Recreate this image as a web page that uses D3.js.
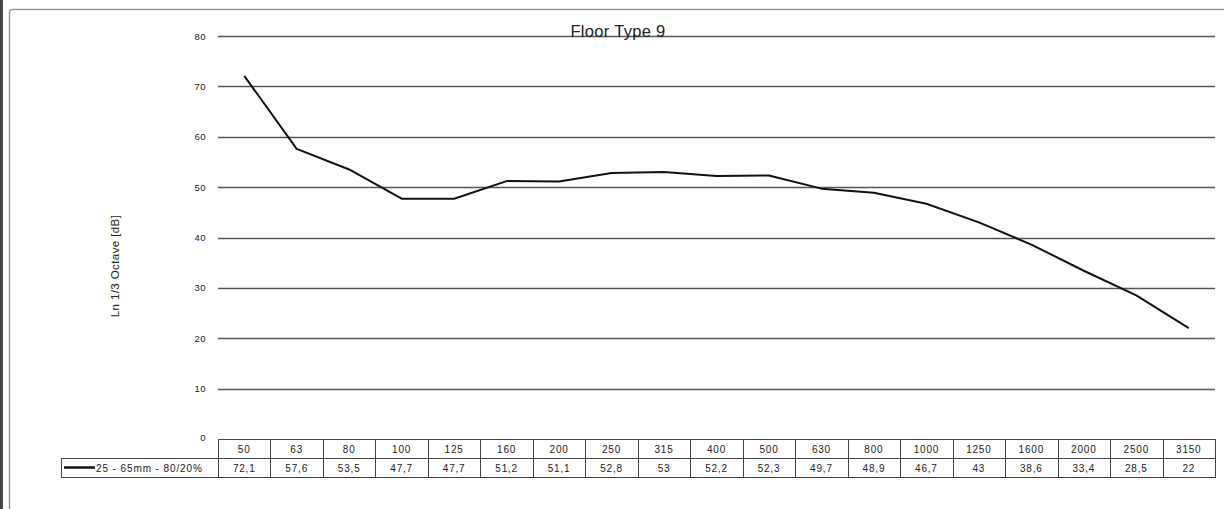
<!DOCTYPE html>
<html>
<head>
<meta charset="utf-8">
<script src="https://cdn.jsdelivr.net/npm/d3@7"></script>
<style>
  body { margin: 0; background: #fff; }
  text { font-family: "Liberation Sans", Arial, sans-serif; fill: #222; }
</style>
</head>
<body>
<svg id="chart" width="1224" height="509"></svg>
<script>
var frequencies = ["50", "63", "80", "100", "125", "160", "200", "250", "315", "400", "500", "630", "800", "1000", "1250", "1600", "2000", "2500", "3150"];
var lnValues = [72.1, 57.6, 53.5, 47.7, 47.7, 51.2, 51.1, 52.8, 53, 52.2, 52.3, 49.7, 48.9, 46.7, 43, 38.6, 33.4, 28.5, 22];
var seriesName = "25 - 65mm - 80/20%";
var yTicks = [0, 10, 20, 30, 40, 50, 60, 70, 80];

var svg = d3.select("#chart");

// plot box (note: "top" is reserved on window, so use other names)
var plotLeft = 218, plotRight = 1215, plotTop = 36, plotBottom = 439;
var rowH = 19;

// outer frame
svg.append("rect").attr("x", 0).attr("y", 0).attr("width", 3).attr("height", 509).attr("fill", "#444");
svg.append("rect")
  .attr("x", 9.5).attr("y", 9.5).attr("width", 1230).attr("height", 520)
  .attr("rx", 3)
  .attr("fill", "none").attr("stroke", "#999").attr("stroke-width", 1.5);

var x = d3.scaleBand().domain(frequencies).range([plotLeft, plotRight]);
var y = d3.scaleLinear().domain([0, 80]).range([plotBottom, plotTop]);

// gridlines
svg.append("g").selectAll("line")
  .data(yTicks.filter(function(d) { return d > 0; }))
  .enter().append("line")
  .attr("x1", plotLeft).attr("x2", plotRight)
  .attr("y1", function(d) { return Math.round(y(d)) + 0.5; })
  .attr("y2", function(d) { return Math.round(y(d)) + 0.5; })
  .attr("stroke", "#555").attr("stroke-width", 1.3);

// y tick labels
svg.append("g").selectAll("text")
  .data(yTicks)
  .enter().append("text")
  .attr("x", 206)
  .attr("y", function(d) { return y(d) + (d === 0 ? 2 : 3.5); })
  .attr("text-anchor", "end")
  .style("font-size", "9.5px")
  .style("letter-spacing", "0.5px")
  .text(function(d) { return d; });

// y axis title
svg.append("text")
  .attr("transform", "translate(119,266) rotate(-90)")
  .attr("text-anchor", "middle")
  .style("font-size", "11.5px")
  .style("letter-spacing", "0.4px")
  .text("Ln 1/3 Octave [dB]");

// chart title
svg.append("text")
  .attr("x", 618).attr("y", 37)
  .attr("text-anchor", "middle")
  .style("font-size", "16.5px")
  .style("letter-spacing", "0.3px")
  .text("Floor Type 9");

// data line
var line = d3.line()
  .x(function(d, i) { return x(frequencies[i]) + x.bandwidth() / 2; })
  .y(function(d) { return y(d); });

svg.append("path")
  .datum(lnValues)
  .attr("d", line)
  .attr("fill", "none")
  .attr("stroke", "#111")
  .attr("stroke-width", 2)
  .attr("stroke-linejoin", "round");

// data table
var table = svg.append("g");
var tStroke = "#444";
table.append("rect")
  .attr("x", plotLeft + 0.5).attr("y", plotBottom + 0.5)
  .attr("width", plotRight - plotLeft).attr("height", rowH * 2)
  .attr("fill", "none").attr("stroke", tStroke);
table.append("rect")
  .attr("x", 61.5).attr("y", plotBottom + rowH + 0.5)
  .attr("width", plotLeft - 61).attr("height", rowH)
  .attr("fill", "none").attr("stroke", tStroke);
table.append("line")
  .attr("x1", plotLeft).attr("x2", plotRight)
  .attr("y1", plotBottom + rowH + 0.5).attr("y2", plotBottom + rowH + 0.5)
  .attr("stroke", tStroke);
table.selectAll(".col")
  .data(frequencies.slice(1))
  .enter().append("line")
  .attr("x1", function(d) { return Math.round(x(d)) + 0.5; })
  .attr("x2", function(d) { return Math.round(x(d)) + 0.5; })
  .attr("y1", plotBottom).attr("y2", plotBottom + rowH * 2)
  .attr("stroke", tStroke);

table.selectAll(".freq")
  .data(frequencies)
  .enter().append("text")
  .attr("x", function(d) { return x(d) + x.bandwidth() / 2; })
  .attr("y", plotBottom + 14)
  .attr("text-anchor", "middle")
  .style("font-size", "10px")
  .style("letter-spacing", "0.8px")
  .text(function(d) { return d; });

table.selectAll(".val")
  .data(lnValues)
  .enter().append("text")
  .attr("x", function(d, i) { return x(frequencies[i]) + x.bandwidth() / 2; })
  .attr("y", plotBottom + rowH + 14)
  .attr("text-anchor", "middle")
  .style("font-size", "10px")
  .style("letter-spacing", "0.8px")
  .text(function(d) { return String(d).replace(".", ","); });

// legend inside table
table.append("line")
  .attr("x1", 64).attr("x2", 95)
  .attr("y1", plotBottom + rowH + 9.5).attr("y2", plotBottom + rowH + 9.5)
  .attr("stroke", "#111").attr("stroke-width", 2.5);
table.append("text")
  .attr("x", 96).attr("y", plotBottom + rowH + 14)
  .style("font-size", "10px")
  .style("letter-spacing", "0.9px")
  .text(seriesName);
</script>
</body>
</html>
